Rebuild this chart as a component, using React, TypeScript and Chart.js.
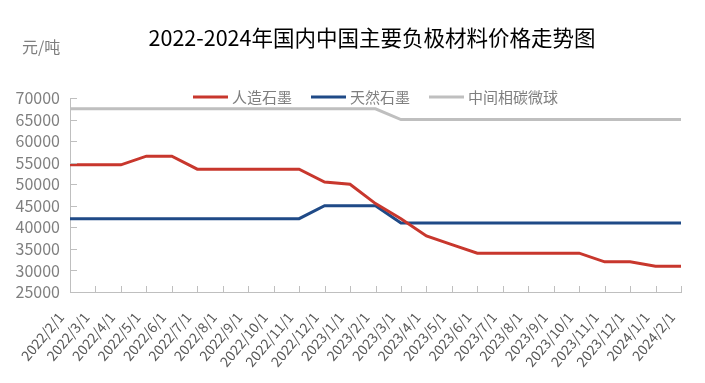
import React, { useEffect, useRef } from "react";
import { Chart, registerables } from "chart.js";

Chart.register(...registerables);

const categories = [
  "2022/2/1", "2022/3/1", "2022/4/1", "2022/5/1", "2022/6/1", "2022/7/1", "2022/8/1",
  "2022/9/1", "2022/10/1", "2022/11/1", "2022/12/1", "2023/1/1", "2023/2/1", "2023/3/1",
  "2023/4/1", "2023/5/1", "2023/6/1", "2023/7/1", "2023/8/1", "2023/9/1", "2023/10/1",
  "2023/11/1", "2023/12/1", "2024/1/1", "2024/2/1",
];

const artificialGraphite = [
  54500, 54500, 54500, 56500, 56500, 53500, 53500, 53500, 53500, 53500, 50500, 50000,
  45500, 42000, 38000, 36000, 34000, 34000, 34000, 34000, 34000, 32000, 32000, 31000, 31000,
];

const naturalGraphite = [
  42000, 42000, 42000, 42000, 42000, 42000, 42000, 42000, 42000, 42000, 45000, 45000,
  45000, 41000, 41000, 41000, 41000, 41000, 41000, 41000, 41000, 41000, 41000, 41000, 41000,
];

const mesocarbonMicrobeads = [
  67500, 67500, 67500, 67500, 67500, 67500, 67500, 67500, 67500, 67500, 67500, 67500,
  67500, 65000, 65000, 65000, 65000, 65000, 65000, 65000, 65000, 65000, 65000, 65000, 65000,
];

const seriesNames = ["人造石墨", "天然石墨", "中间相碳微球"];
const seriesColors = ["#C8372D", "#1F4A87", "#BFBFBF"];
const titleText = "2022-2024年国内中国主要负极材料价格走势图";
const unitText = "元/吨";

const FONT = "'Noto Sans CJK SC', 'Microsoft YaHei', sans-serif";
const AXIS_COLOR = "#BFBFBF";

const decorPlugin = {
  id: "decor",
  afterDraw(chart: any) {
    const ctx = chart.ctx;
    const area = chart.chartArea;
    const xs = chart.scales.x;
    const ys = chart.scales.y;
    ctx.save();
    // inside tick marks
    ctx.strokeStyle = AXIS_COLOR;
    ctx.lineWidth = 1;
    ctx.beginPath();
    xs.ticks.forEach((_t: any, i: number) => {
      const px = Math.round(xs.getPixelForTick(i)) + 0.5;
      ctx.moveTo(px, area.bottom);
      ctx.lineTo(px, area.bottom - 6);
    });
    ys.ticks.forEach((_t: any, i: number) => {
      const py = Math.round(ys.getPixelForTick(i)) + 0.5;
      ctx.moveTo(area.left, py);
      ctx.lineTo(area.left + 7, py);
    });
    ctx.stroke();

    // title
    ctx.fillStyle = "#000000";
    ctx.font = `21.5px ${FONT}`;
    ctx.textBaseline = "middle";
    ctx.textAlign = "center";
    ctx.fillText(titleText, 372, 38);

    // unit label
    ctx.fillStyle = "#7F7F7F";
    ctx.font = `16px ${FONT}`;
    ctx.textAlign = "left";
    ctx.fillText(unitText, 22, 47);

    // legend
    ctx.font = `15px ${FONT}`;
    const lineW = 35;
    const gapLineText = 4;
    const gapItems = 19;
    const items = chart.data.datasets.map((ds: any) => ({
      label: ds.label,
      color: ds.borderColor,
      w: lineW + gapLineText + ctx.measureText(ds.label).width,
    }));
    const total = items.reduce((s: number, it: any) => s + it.w, 0) + gapItems * (items.length - 1);
    let x = (area.left + area.right) / 2 - total / 2;
    const y = 97;
    items.forEach((it: any) => {
      ctx.strokeStyle = it.color;
      ctx.lineWidth = 3;
      ctx.beginPath();
      ctx.moveTo(x, y);
      ctx.lineTo(x + lineW, y);
      ctx.stroke();
      ctx.fillStyle = "#7F7F7F";
      ctx.fillText(it.label, x + lineW + gapLineText, y);
      x += it.w + gapItems;
    });
    ctx.restore();
  },
};

export default function App() {
  const ref = useRef<HTMLCanvasElement>(null);

  useEffect(() => {
    document.body.style.margin = "0";
    const canvas = ref.current;
    if (!canvas) return;
    const seriesData = [artificialGraphite, naturalGraphite, mesocarbonMicrobeads];
    const chart = new Chart(canvas, {
      type: "line",
      data: {
        labels: categories,
        datasets: seriesNames.map((name, i) => ({
          label: name,
          data: seriesData[i],
          borderColor: seriesColors[i],
          backgroundColor: seriesColors[i],
          borderWidth: 3,
          pointRadius: 0,
          tension: 0,
          fill: false,
        })),
      },
      options: {
        responsive: false,
        animation: false,
        layout: { padding: { left: 0, right: 24, top: 98, bottom: 0 } },
        plugins: {
          legend: { display: false },
          tooltip: { enabled: false },
          title: { display: false },
        },
        scales: {
          x: {
            type: "category",
            offset: false,
            grid: { display: false, drawTicks: false },
            border: { display: true, color: AXIS_COLOR, width: 1 },
            ticks: {
              autoSkip: false,
              maxRotation: 50,
              minRotation: 50,
              padding: 17,
              labelOffset: -9,
              color: "#595959",
              font: { size: 14, family: FONT },
            },
            afterFit: (scale: any) => {
              scale.height = 91;
              scale.paddingLeft = 0;
              scale.paddingRight = 0;
            },
          },
          y: {
            min: 25000,
            max: 70000,
            grid: { display: false, drawTicks: false },
            border: { display: true, color: AXIS_COLOR, width: 1 },
            ticks: {
              stepSize: 5000,
              autoSkip: false,
              padding: 10,
              color: "#7F7F7F",
              font: { size: 16, family: FONT },
              callback: (v: any) => String(v),
            },
            afterFit: (scale: any) => {
              scale.width = 70;
            },
          },
        },
      },
      plugins: [decorPlugin],
    });
    return () => chart.destroy();
  }, []);

  return (
    <div style={{ width: 705, height: 383, background: "#ffffff" }}>
      <canvas ref={ref} width={705} height={383} />
    </div>
  );
}
